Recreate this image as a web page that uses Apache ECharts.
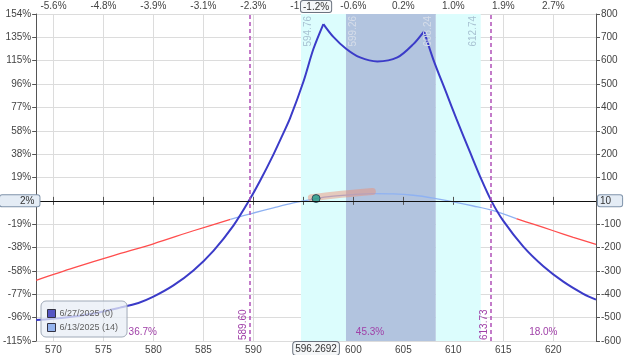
<!DOCTYPE html>
<html><head><meta charset="utf-8">
<script src="https://cdn.jsdelivr.net/npm/echarts@6/dist/echarts.min.js"></script>
<style>html,body{margin:0;padding:0;background:#fff}#c{width:624px;height:355px}</style>
</head><body><div id="c"></div>
<script>
// ---- data ----
const xMin = 568.2692, xMax = 624.2692;
const currentPrice = 596.2692;
const currentPL = 10;
const pctRefPrice = 603.8;
const capital = 520;
const xTicks = [570, 575, 580, 585, 590, 595, 600, 605, 610, 615, 620];
const yMin = -600, yMax = 800, yStep = 100;

const expX  = [568.27, 571, 574, 576.67, 578.5, 580, 582, 584, 586, 588, 589.55, 590.67, 592, 593, 593.67, 595, 596, 597, 598, 599.3, 600.67, 602.4, 604.4, 606, 607.07, 608, 609.3, 610.3, 611.7, 612.77, 613.8, 615, 617, 619, 621, 623, 624.27];
const expPL = [-510, -500, -482, -457, -437, -410, -362, -298, -214, -106, 0, 86, 198, 290, 354, 510, 650, 757, 702, 650, 614, 597, 614, 671, 726, 605, 462, 352, 205, 95, 0, -86, -196, -280, -346, -398, -423];
const expKinks = [597, 607.07];

const t14X  = [568.27, 572, 576, 580, 584, 587.7, 590, 592, 594, 596.27, 598, 600, 602, 604, 606, 608, 610, 612, 614, 616.3, 618, 620, 622, 624.27];
const t14PL = [-340, -287, -234, -184, -128, -79, -52, -30, -9, 10, 20, 27, 31, 30, 24, 12, -4, -22, -42, -76, -100, -128, -156, -186];
const splitLow = 587.7, splitHigh = 616.3;

const bandOuter = [594.76, 612.74];
const bandInner = [599.26, 608.24];
const breakevens = [589.60, 613.73];
const probLabels = ['36.7%', '45.3%', '18.0%'];
const probY = -562;
const highlightX = [595.8, 598.8, 601.9];
const highlightPL = [13, 28, 40];
const legendNames = ['6/27/2025 (0)', '6/13/2025 (14)'];

// ---- build ----
const FONT = 'Liberation Sans, Arial, sans-serif';
const pairs = (xs, ys) => xs.map((x, i) => [x, ys[i]]);
const t14 = pairs(t14X, t14PL);
const redLeft = t14.filter(p => p[0] <= splitLow);
const blueMid = t14.filter(p => p[0] >= splitLow && p[0] <= splitHigh);
const redRight = t14.filter(p => p[0] >= splitHigh);
const exp = pairs(expX, expPL);
const expSegs = [
  exp.filter(p => p[0] <= expKinks[0]),
  exp.filter(p => p[0] >= expKinks[0] && p[0] <= expKinks[1]),
  exp.filter(p => p[0] >= expKinks[1])
];
const pct = v => Math.round(v / capital * 100) + '%';
const topPct = v => ((v - pctRefPrice) / pctRefPrice * 100).toFixed(1) + '%';

const regionEdges = [xMin, breakevens[0], breakevens[1], xMax];
const probMarks = probLabels.map((t, i) => ({ name: t, coord: [(regionEdges[i] + regionEdges[i + 1]) / 2, probY] }));

const axisLineStyle = { color: '#555', width: 1 };
const labelBase = { color: '#444', fontSize: 10, fontFamily: FONT };
const ptrLabel = (txt, extra) => Object.assign({
  show: true, formatter: () => txt, color: '#333', fontSize: 10, fontFamily: FONT,
  backgroundColor: '#e4ecf5', borderColor: '#7f93aa', borderWidth: 1, borderRadius: 2,
  shadowBlur: 0, padding: [1, 3, 1, 3]
}, extra);
const hidden = { color: 'rgba(0,0,0,0)', width: 0 };
const bandLbl = (v, pos, color) => ({ xAxis: v, lineStyle: hidden,
  label: { show: true, formatter: v.toFixed(2), position: pos, color: color, fontSize: 10, fontFamily: FONT, distance: 2 } });
const beLbl = v => ({ xAxis: v, lineStyle: { color: '#b050b8', width: 1.5, type: [4, 3] },
  label: { show: true, formatter: v.toFixed(2), position: 'insideStartTop', color: '#a040a8', fontSize: 10, fontFamily: FONT, distance: 1 } });
const expSeries = expSegs.map(seg => ({
  type: 'line', name: legendNames[0], data: seg, smooth: 0.3, symbol: 'none', z: 4,
  lineStyle: { color: '#3b3bc8', width: 2 }, itemStyle: { color: '#5555c4' }
}));

const chart = echarts.init(document.getElementById('c'), null, { renderer: 'canvas' });
chart.setOption({
  animation: false,
  axisPointer: { triggerOn: 'none', link: [] },
  grid: { left: 36, right: 28, top: 14, bottom: 14 },
  legend: {
    data: legendNames, orient: 'vertical', left: 41, top: 301, z: 10,
    icon: 'rect', itemWidth: 8, itemHeight: 8, itemGap: 5,
    padding: [8, 9, 5, 6], backgroundColor: 'rgba(232,238,246,0.75)',
    borderColor: '#a0aab8', borderWidth: 1, borderRadius: 5,
    itemStyle: { borderColor: '#334', borderWidth: 1 },
    textStyle: { color: '#606060', fontSize: 9, fontFamily: FONT, padding: [0, 0, 0, -1] }
  },
  xAxis: [{
    type: 'value', min: xMin, max: xMax, position: 'bottom', z: 1,
    axisLine: { lineStyle: axisLineStyle },
    axisTick: { customValues: xTicks, length: 4, lineStyle: axisLineStyle },
    axisLabel: Object.assign({ customValues: xTicks, margin: 4 }, labelBase),
    splitLine: { show: true, lineStyle: { color: '#dcdcdc' } },
    axisPointer: { show: true, status: 'show', value: currentPrice, type: 'line', triggerTooltip: false,
      lineStyle: { opacity: 0 }, label: ptrLabel('596.2692', { backgroundColor: '#f4f6f8', borderColor: '#6c7480', borderRadius: 3, margin: 1, padding: [2, 2, 1, 2] }) }
  }, {
    type: 'value', min: xMin, max: xMax, position: 'top', z: 1,
    axisLine: { lineStyle: axisLineStyle },
    axisTick: { customValues: xTicks, length: 4, lineStyle: axisLineStyle },
    axisLabel: Object.assign({ customValues: xTicks, margin: 3, formatter: topPct }, labelBase),
    splitLine: { show: false },
    axisPointer: { show: true, status: 'show', value: currentPrice, type: 'line', triggerTooltip: false,
      lineStyle: { opacity: 0 }, label: ptrLabel(topPct(currentPrice), { backgroundColor: '#f4f6f8', borderColor: '#6c7480', margin: 2, padding: [1, 2, 0, 2] }) }
  }],
  yAxis: [{
    type: 'value', min: yMin, max: yMax, interval: yStep, position: 'left', z: 1,
    axisLine: { show: true, lineStyle: axisLineStyle },
    axisTick: { show: true, length: 4, lineStyle: axisLineStyle },
    axisLabel: Object.assign({ margin: 5, formatter: v => v === 0 ? '' : pct(v) }, labelBase),
    splitLine: { show: true, lineStyle: { color: '#dcdcdc' } },
    axisPointer: { show: true, status: 'show', value: 0, type: 'line', triggerTooltip: false,
      lineStyle: { color: '#111', width: 1, type: 'solid' },
      label: ptrLabel(pct(currentPL), { margin: -2, padding: [1, 5, 0, 20] }) }
  }, {
    type: 'value', min: yMin, max: yMax, interval: yStep, position: 'right', z: 1,
    axisLine: { show: true, lineStyle: axisLineStyle },
    axisTick: { show: true, length: 4, lineStyle: axisLineStyle },
    axisLabel: Object.assign({ margin: 5, formatter: v => v === 0 ? '' : String(v) }, labelBase),
    splitLine: { show: false },
    axisPointer: { show: true, status: 'show', value: 0, type: 'line', triggerTooltip: false,
      lineStyle: { opacity: 0 },
      label: ptrLabel(String(currentPL), { margin: 2, padding: [1, 11, 0, 2] }) }
  }],
  series: [
    { // bands, breakevens, annotations
      type: 'line', name: 'bands', data: [], z: 0, silent: true,
      markArea: {
        silent: true,
        data: [
          [{ xAxis: bandOuter[0], itemStyle: { color: '#dcfdfd' } }, { xAxis: bandInner[0] }],
          [{ xAxis: bandInner[1], itemStyle: { color: '#dcfdfd' } }, { xAxis: bandOuter[1] }],
          [{ xAxis: bandInner[0], itemStyle: { color: '#b2c4df' } }, { xAxis: bandInner[1] }]
        ]
      },
      markLine: {
        silent: true, symbol: ['none', 'none'], animation: false,
        data: [
          bandLbl(bandOuter[0], 'insideEndBottom', '#a8c2d2'),
          bandLbl(bandInner[0], 'insideEndBottom', '#d6dde9'),
          bandLbl(bandInner[1], 'insideEndTop', '#d6dde9'),
          bandLbl(bandOuter[1], 'insideEndTop', '#a8c2d2'),
          beLbl(breakevens[0]),
          beLbl(breakevens[1])
        ]
      },
      markPoint: {
        silent: true, symbol: 'circle', symbolSize: 0,
        label: { show: true, position: 'inside', formatter: '{b}', color: '#a040a8', fontSize: 10, fontFamily: FONT },
        data: probMarks
      }
    },
    { type: 'line', name: 'red-left', data: redLeft, smooth: 0.3, symbol: 'none', z: 2,
      lineStyle: { color: '#ff4d4d', width: 1.3 }, itemStyle: { color: '#ff4d4d' } },
    { type: 'line', name: 'red-right', data: redRight, smooth: 0.3, symbol: 'none', z: 2,
      lineStyle: { color: '#ff4d4d', width: 1.3 }, itemStyle: { color: '#ff4d4d' } },
    { type: 'line', name: legendNames[1], data: blueMid, smooth: 0.3, symbol: 'none', z: 2,
      lineStyle: { color: '#8fb2f2', width: 1.3 }, itemStyle: { color: '#95b4ee' } },
    { type: 'line', name: 'highlight', data: pairs(highlightX, highlightPL), smooth: 0.4, symbol: 'none', z: 3,
      lineStyle: { color: 'rgba(240,140,110,0.45)', width: 7, cap: 'round' } },
    ...expSeries,
    { type: 'scatter', name: 'current', data: [[currentPrice, currentPL]], symbolSize: 8, z: 5,
      itemStyle: { color: '#1c9c8c', borderColor: '#23364a', borderWidth: 1 } }
  ]
});
</script>
</body></html>
